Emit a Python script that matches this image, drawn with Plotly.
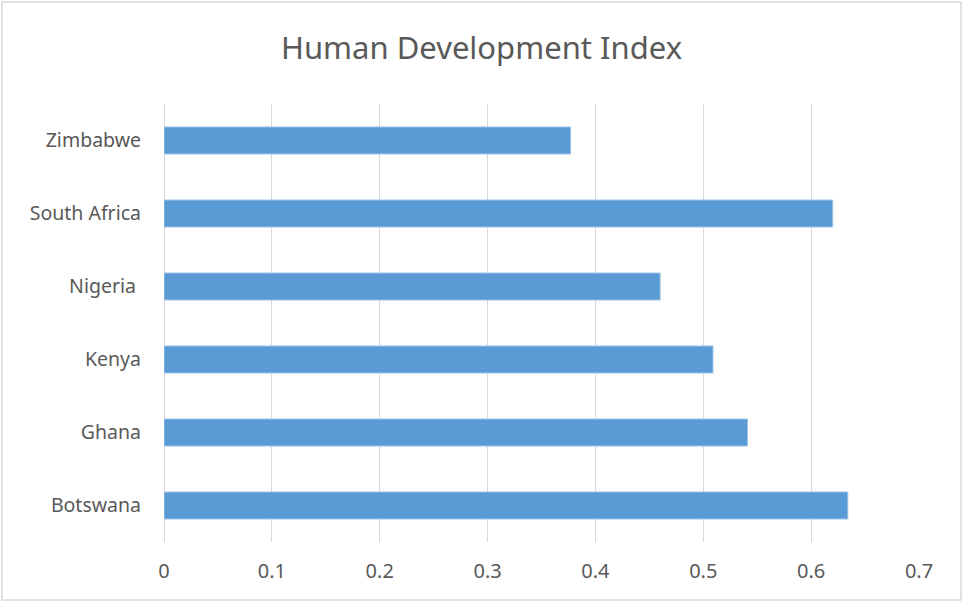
import plotly.graph_objects as go

countries = ["Botswana", "Ghana", "Kenya", "Nigeria\u00a0", "South Africa", "Zimbabwe"]
hdi = [0.634, 0.541, 0.509, 0.460, 0.620, 0.377]
x_ticks = [0, 0.1, 0.2, 0.3, 0.4, 0.5, 0.6, 0.7]
x_tick_labels = ["0", "0.1", "0.2", "0.3", "0.4", "0.5", "0.6", "0.7"]

W, H = 963, 602
L, R, T, B = 164, 44, 104, 60

fig = go.Figure(go.Bar(
    x=hdi, y=countries, orientation="h",
    marker=dict(color="#5B9BD5", line=dict(color="#9DC3E6", width=1)),
))

fig.update_layout(
    width=W, height=H,
    margin=dict(l=L, r=R, t=T, b=B),
    paper_bgcolor="white", plot_bgcolor="white",
    font=dict(family="Noto Sans, Open Sans, sans-serif", color="#595959", size=20),
    title=dict(text="Human Development Index", x=0.5, xanchor="center",
               y=1 - 48 / H, yanchor="middle",
               font=dict(size=31, color="#595959")),
    bargap=0.63,
    showlegend=False,
    xaxis=dict(range=[0, 0.7], tickvals=x_ticks, ticktext=x_tick_labels,
               showgrid=True, gridcolor="#D9D9D9", gridwidth=1,
               zeroline=True, zerolinecolor="#D9D9D9", zerolinewidth=1,
               showline=False, ticks="", ticklabelstandoff=15,
               tickfont=dict(size=20)),
    yaxis=dict(showgrid=False, zeroline=False, showline=False, ticks="",
               ticklabelstandoff=22, tickfont=dict(size=19.5)),
    shapes=[dict(type="rect", xref="paper", yref="paper",
                 x0=-(L - 2) / (W - L - R), x1=1 + (R - 2) / (W - L - R),
                 y0=-(B - 2) / (H - T - B), y1=1 + (T - 2) / (H - T - B),
                 line=dict(color="#D9D9D9", width=1.5), fillcolor="rgba(0,0,0,0)",
                 layer="below")],
)

fig.write_html("out.html", config={"displayModeBar": False},
               post_script="document.body.style.margin='0';document.body.style.overflow='hidden';")
